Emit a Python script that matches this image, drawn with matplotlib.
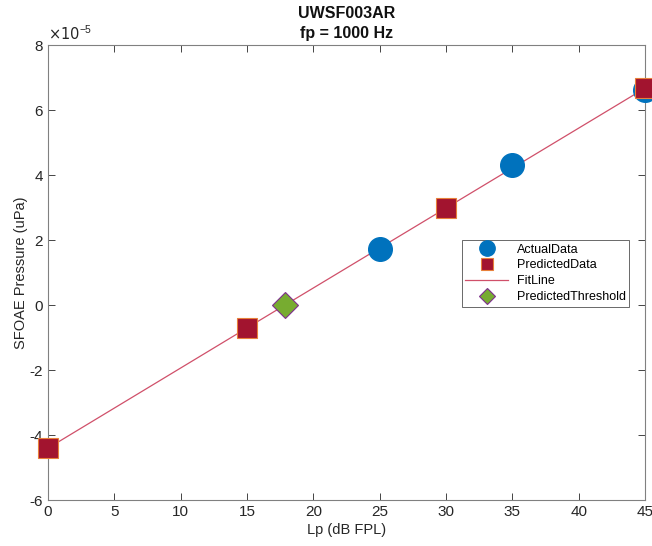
import matplotlib
matplotlib.use("Agg")
import matplotlib.pyplot as plt
import numpy as np

plt.rcParams['font.family'] = ['Liberation Sans', 'DejaVu Sans']
plt.rcParams['axes.unicode_minus'] = False

# data, pressure in units of 1e-5 uPa
actual_lp = [25, 35, 45]
actual_p = [1.72, 4.33, 6.62]
pred_lp = [0, 15, 30, 45]
pred_p = [-4.40, -0.70, 2.99, 6.68]
thresh_lp = [17.85]
thresh_p = [0.0]

xticks = np.arange(0, 46, 5)
yticks = np.arange(-6, 9, 2)

fig = plt.figure(figsize=(6.52, 5.46), dpi=100)
ax = fig.add_axes([0.0736, 0.084, 0.9156, 0.833])

ax.plot(actual_lp, actual_p, 'o', color='#0072BD', markersize=17,
        markeredgecolor='#0072BD', label='ActualData', clip_on=False, zorder=3)
ax.plot(pred_lp, pred_p, 's', color='#A2142F', markersize=14,
        markeredgecolor='#E8803A', markeredgewidth=0.8, label='PredictedData',
        clip_on=False, zorder=4)
ax.plot(pred_lp, pred_p, '-', color='#D0506A', linewidth=0.9, label='FitLine', zorder=2)
ax.plot(thresh_lp, thresh_p, 'D', color='#77AC30', markersize=13,
        markeredgecolor='#7E2F8E', markeredgewidth=0.8, label='PredictedThreshold',
        zorder=4)

ax.set_xlim(0, 45)
ax.set_ylim(-6, 8)
ax.set_xticks(xticks)
ax.set_yticks(yticks)
ax.tick_params(direction='in', top=True, right=True, labelsize=11,
               colors='#262626', length=5, width=0.6)
for s in ax.spines.values():
    s.set_color('#808080')
    s.set_linewidth(0.8)

ax.set_xlabel('Lp (dB FPL)', fontsize=10.5, color='#262626', labelpad=3)
ax.set_ylabel('SFOAE Pressure (uPa)', fontsize=10.5, color='#262626', labelpad=1)
ax.set_title('UWSF003AR\nfp = 1000 Hz', fontsize=11.5, fontweight='bold',
             color='#111111', pad=5, linespacing=1.45)
ax.text(0.0, 1.005, r'$\times10^{\mathregular{-5}}$', transform=ax.transAxes, fontsize=10.5,
        ha='left', va='bottom', color='#262626')

leg = ax.legend(loc='upper left', bbox_to_anchor=(0.693, 0.572), fontsize=9,
                frameon=True, fancybox=False, edgecolor='#262626',
                handlelength=3.4, borderpad=0.3, labelspacing=0.3,
                handletextpad=0.7, markerscale=0.65, borderaxespad=0)
leg.get_frame().set_linewidth(0.6)

fig.savefig('out.png', dpi=100)
